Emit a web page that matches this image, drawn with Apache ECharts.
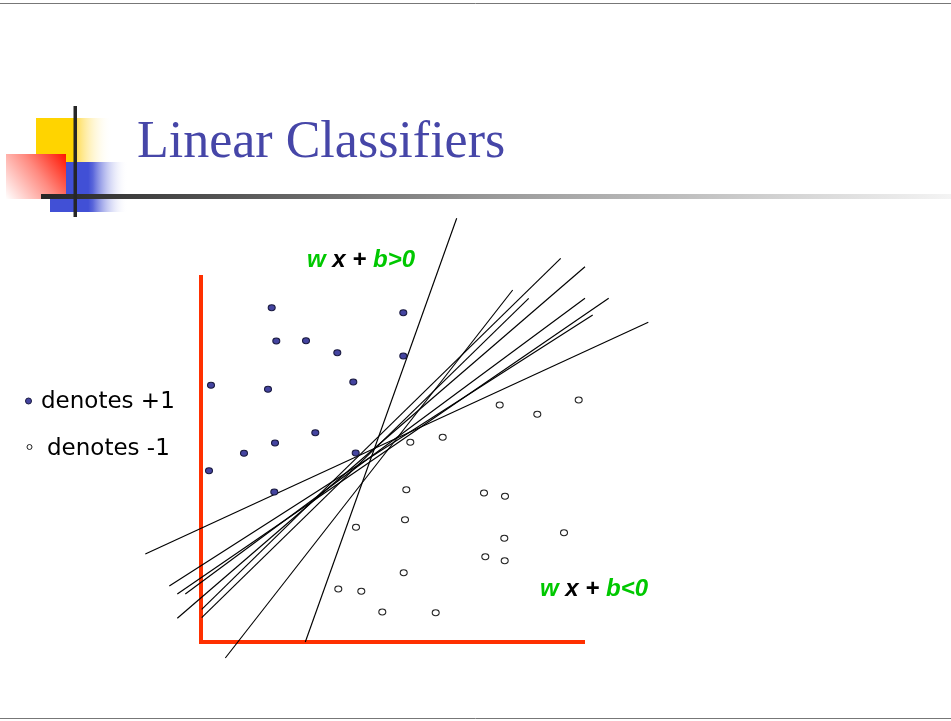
<!DOCTYPE html>
<html>
<head>
<meta charset="utf-8">
<title>Linear Classifiers</title>
<script src="https://cdn.jsdelivr.net/npm/echarts@6/dist/echarts.min.js"></script>
<style>
  html, body { margin: 0; padding: 0; background: #fff; }
  #chart { width: 951px; height: 721px; }
</style>
</head>
<body>
<div id="chart"></div>
<script>
// points in axis units (origin = corner of the red axes)
const positivePoints = [
  [70.7, 334.3], [202.3, 329.3], [75.3, 301], [105, 301.3], [136.3, 289.3],
  [202.3, 286], [10, 256.7], [67, 252.7], [152.3, 260], [114.3, 209.3],
  [74, 199], [43, 188.7], [154.7, 189], [8, 171.3], [73.3, 150]
];
const negativePoints = [
  [298.7, 237], [336.3, 227.7], [377.7, 242], [209.3, 199.7], [241.7, 204.7],
  [205.3, 152.3], [283, 149], [304, 145.7], [204, 122.3], [155, 114.7],
  [363, 109.3], [303.3, 103.7], [284.3, 85.3], [303.7, 81.3], [202.7, 69.3],
  [137.3, 53], [160.3, 50.7], [181.3, 30], [234.7, 29.3]
];
// candidate separating lines, each as two end points
const boundaries = [
  [[255.7, 423.7], [104.3, 0]],
  [[311.7, 352], [24.3, -16]],
  [[327.7, 343.7], [0.7, 24.3]],
  [[359.7, 383.7], [0.7, 32.7]],
  [[384, 375.3], [-23.7, 23.7]],
  [[384, 343.7], [-15.7, 48]],
  [[407.7, 343.7], [-23.7, 48]],
  [[391.7, 327], [-31.7, 56]],
  [[447.3, 319.7], [-55.7, 88]]
];
// the red L-shaped axes
const axesFrame = [[0, 367], [0, 0], [384, 0]];
const xRange = [-61, 459];
const yRange = [-23, 432];

const green = '#00c800';
const axisRed = '#ff3000';
const labelFont = 'italic bold 24px "Liberation Sans", Arial, sans-serif';

const chart = echarts.init(document.getElementById('chart'));

const lineSeries = boundaries.map(function (b) {
  return {
    type: 'line',
    data: b,
    symbol: 'none',
    silent: true,
    z: 3,
    lineStyle: { color: '#000', width: 1.15 }
  };
});

const G = echarts.graphic.LinearGradient;

function regionLabel(x, y, sign) {
  return {
    type: 'text', x: x, y: y, z: 10,
    style: {
      text: '{g|w} {k|x} {k|+} {g|b' + sign + '0}', textAlign: 'left', textVerticalAlign: 'middle',
      font: labelFont,
      rich: { g: { fill: green, font: labelFont }, k: { fill: '#000', font: labelFont } }
    }
  };
}

chart.setOption({
  animation: false,
  backgroundColor: '#fff',
  grid: { left: 140, top: 210, width: 520, height: 455 },
  xAxis: {
    type: 'value', min: xRange[0], max: xRange[1], show: false
  },
  yAxis: {
    type: 'value', min: yRange[0], max: yRange[1], show: false
  },
  graphic: [
    // slide borders
    { type: 'line', shape: { x1: 0, y1: 3.5, x2: 951, y2: 3.5 }, style: { stroke: '#777', lineWidth: 1 } },
    { type: 'line', shape: { x1: 0, y1: 718.5, x2: 951, y2: 718.5 }, style: { stroke: '#777', lineWidth: 1 } },
    // title decoration
    { type: 'rect', shape: { x: 36, y: 118, width: 76, height: 44 },
      style: { fill: new G(0, 0, 1, 0, [
        { offset: 0, color: '#ffd400' }, { offset: 0.5, color: '#ffd400' },
        { offset: 0.55, color: '#ffe066' }, { offset: 1, color: 'rgba(255,255,255,0)' }]) } },
    { type: 'rect', shape: { x: 50, y: 162, width: 78, height: 50 },
      style: { fill: new G(0, 0, 1, 0, [
        { offset: 0, color: '#4150d6' }, { offset: 0.49, color: '#4150d6' },
        { offset: 0.55, color: '#5a66da' }, { offset: 1, color: 'rgba(255,255,255,0)' }]) } },
    { type: 'rect', shape: { x: 6, y: 154, width: 60, height: 45 },
      style: { fill: new G(1, 0, 0, 1, [
        { offset: 0, color: '#ff1400' }, { offset: 0.45, color: '#ff8a80' },
        { offset: 1, color: '#ffffff' }]) } },
    { type: 'rect', shape: { x: 41, y: 194, width: 910, height: 5 },
      style: { fill: new G(0, 0, 1, 0, [
        { offset: 0, color: '#262626' }, { offset: 0.5, color: '#9a9a9a' },
        { offset: 1, color: '#f4f4f4' }]) } },
    { type: 'rect', shape: { x: 73.5, y: 106, width: 3.5, height: 111 }, style: { fill: '#262626' } },
    { type: 'text', x: 137, y: 143,
      style: { text: 'Linear Classifiers', font: '52px "Liberation Serif", serif',
        fill: '#4646a8', textAlign: 'left', textVerticalAlign: 'middle' } },
    // legend
    { type: 'circle', shape: { cx: 28.5, cy: 401, r: 3 },
      style: { fill: '#4444a0', stroke: '#1a1a40', lineWidth: 1 } },
    { type: 'text', x: 41, y: 402,
      style: { text: 'denotes +1', font: '23px "DejaVu Sans", sans-serif',
        fill: '#000', textAlign: 'left', textVerticalAlign: 'middle' } },
    { type: 'circle', shape: { cx: 29.5, cy: 447, r: 2.5 },
      style: { fill: '#fff', stroke: '#222', lineWidth: 1 } },
    { type: 'text', x: 47, y: 449,
      style: { text: 'denotes -1', font: '23px "DejaVu Sans", sans-serif',
        fill: '#000', textAlign: 'left', textVerticalAlign: 'middle' } },
    // region labels
    regionLabel(307, 260, '>'),
    regionLabel(540, 589, '<')
  ],
  series: [
    {
      type: 'line', data: axesFrame, symbol: 'none', silent: true, z: 1,
      lineStyle: { color: axisRed, width: 4, cap: 'butt', join: 'miter' }
    }
  ].concat(lineSeries).concat([
    {
      type: 'scatter', data: positivePoints, symbol: 'circle', symbolSize: [7, 6], z: 4,
      itemStyle: { color: '#4444a0', borderColor: '#1a1a40', borderWidth: 1, opacity: 1 }
    },
    {
      type: 'scatter', data: negativePoints, symbol: 'circle', symbolSize: [7, 6], z: 4,
      itemStyle: { color: '#fff', borderColor: '#222', borderWidth: 1, opacity: 1 }
    }
  ])
});
</script>
</body>
</html>
